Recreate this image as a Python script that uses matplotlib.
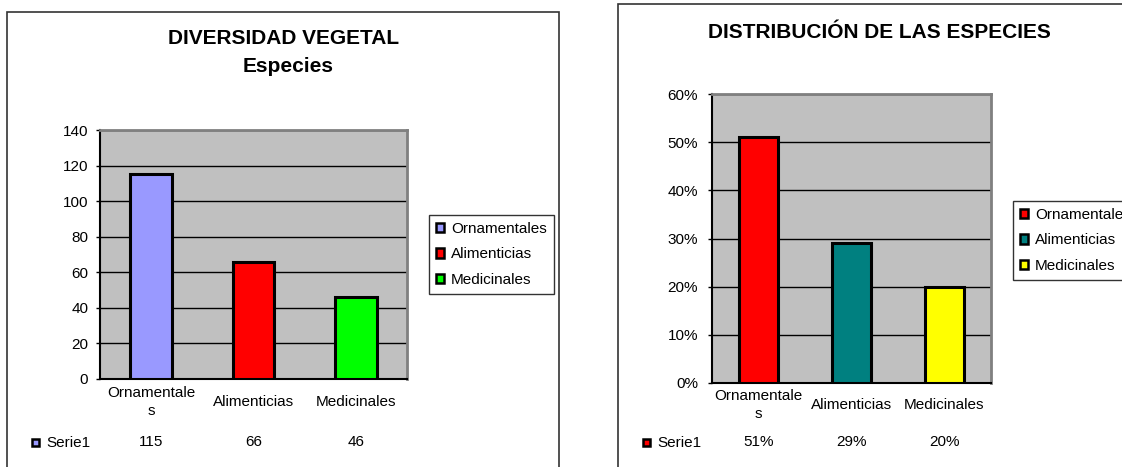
import matplotlib.pyplot as plt
from matplotlib.patches import Patch, Rectangle
from matplotlib.ticker import PercentFormatter
import matplotlib.transforms as mtransforms

plt.rcParams['font.family'] = ['Liberation Sans', 'DejaVu Sans']

# data
categorias = ["Ornamentales", "Alimenticias", "Medicinales"]
etiquetas_eje = ["Ornamentale\ns", "Alimenticias", "Medicinales"]
especies = [115, 66, 46]
porcentajes = [0.51, 0.29, 0.20]
textos_tabla_izq = ["115", "66", "46"]
textos_tabla_der = ["51%", "29%", "20%"]
colores_izq = ["#9999FF", "#FF0000", "#00FF00"]
colores_der = ["#FF0000", "#008080", "#FFFF00"]

W, H = 1122, 467
FS = 11
fig = plt.figure(figsize=(W / 100, H / 100), dpi=100)


def fx(px):
    return px / W


def fy(py):
    return 1 - py / H


# panel frames
fig.add_artist(Rectangle((fx(7), fy(470)), fx(552), fy(12) - fy(470), transform=fig.transFigure,
                         fill=False, edgecolor="#333333", linewidth=1.2))
fig.add_artist(Rectangle((fx(618), fy(470)), fx(520), fy(4) - fy(470), transform=fig.transFigure,
                         fill=False, edgecolor="#333333", linewidth=1.2))


def panel(rect, valores, colores, ymax, ystep, textos, legend_xy, row_y, label_y, pad, pct=False):
    ax = fig.add_axes(rect)
    x = range(len(valores))
    ax.set_facecolor("#C0C0C0")
    ax.bar(x, valores, width=0.41, color=colores, edgecolor="black", linewidth=2.2, zorder=3)
    ax.set_xlim(-0.5, len(valores) - 0.5)
    ax.set_ylim(0, ymax)
    ticks = [i * ystep for i in range(int(round(ymax / ystep)) + 1)]
    ax.set_yticks(ticks)
    ax.yaxis.grid(True, color="black", linewidth=1, zorder=1)
    ax.set_axisbelow(True)
    if pct:
        ax.yaxis.set_major_formatter(PercentFormatter(1.0, decimals=0))
    ax.tick_params(axis="y", labelsize=FS, length=3, width=1, pad=pad)
    ax.set_xticks([])
    for s in ["top", "right"]:
        ax.spines[s].set_color("#808080")
        ax.spines[s].set_linewidth(2)
    for s in ["left", "bottom"]:
        ax.spines[s].set_color("black")
        ax.spines[s].set_linewidth(1.5)

    # category labels and data table
    tr = mtransforms.blended_transform_factory(ax.transData, fig.transFigure)
    for i, (lab, txt) in enumerate(zip(etiquetas_eje, textos)):
        ax.text(i, fy(label_y), lab, transform=tr, ha="center", va="center",
                fontsize=FS, linespacing=1.3)
        ax.text(i, fy(row_y), txt, transform=tr, ha="center", va="center", fontsize=FS)

    handles = [Patch(facecolor=c, edgecolor="black", linewidth=1.8) for c in colores]
    leg = fig.legend(handles, categorias, loc="upper left",
                     bbox_to_anchor=(fx(legend_xy[0]), fy(legend_xy[1])),
                     bbox_transform=fig.transFigure, fontsize=FS, frameon=True,
                     fancybox=False, edgecolor="black", handlelength=0.5, handleheight=0.6,
                     handletextpad=0.5, labelspacing=0.75, borderpad=0.45, borderaxespad=0)
    leg.get_frame().set_linewidth(1)
    return ax


panel([fx(100), fy(379), fx(307), fy(130) - fy(379)], especies, colores_izq, 140, 20,
      textos_tabla_izq, (429, 215), 442, 402, 5.5)
panel([fx(712), fy(383), fx(279), fy(94) - fy(383)], porcentajes, colores_der, 0.6, 0.1,
      textos_tabla_der, (1013, 201), 442, 405, 7, pct=True)

# titles
fig.text(fx(284), fy(39), "DIVERSIDAD VEGETAL", ha="center", va="center",
         fontsize=15, fontweight="bold")
fig.text(fx(288), fy(67), "Especies", ha="center", va="center", fontsize=15, fontweight="bold")
fig.text(fx(879), fy(32), "DISTRIBUCIÓN DE LAS ESPECIES", ha="center", va="center",
         fontsize=15, fontweight="bold")

# data table legend keys
for xk, col in [(36, colores_izq[0]), (647, colores_der[0])]:
    fig.add_artist(Rectangle((fx(xk - 4), fy(446)), fx(7), fy(439) - fy(446),
                             transform=fig.transFigure, facecolor=col,
                             edgecolor="black", linewidth=1.8))
fig.text(fx(46), fy(443), "Serie1", ha="left", va="center", fontsize=FS)
fig.text(fx(657), fy(443), "Serie1", ha="left", va="center", fontsize=FS)

fig.savefig("out.png", dpi=100)
